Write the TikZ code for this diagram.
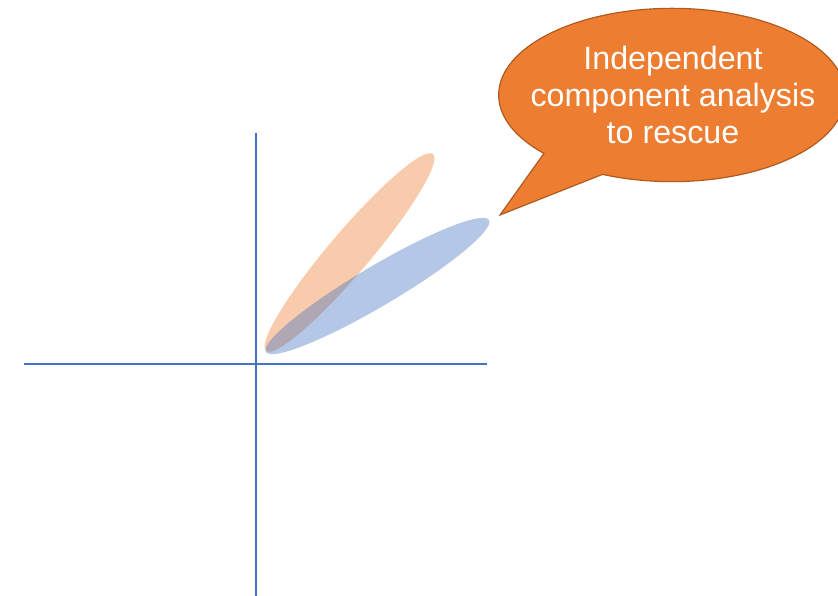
\documentclass[tikz,border=0pt]{standalone}
\usepackage{fontspec}
\setmainfont{Liberation Sans}
\usepackage{tikz}
\usepackage{xcolor}
\usetikzlibrary{shapes.geometric,shapes.callouts}

\definecolor{axisblue}{HTML}{4472C4}
\definecolor{icaorange}{HTML}{ED7D31}
\definecolor{icaborder}{HTML}{AE5A21}

\begin{document}
\begin{tikzpicture}[
    x=0.03cm, y=-0.03cm,
    axis/.style={draw=axisblue, line width=2pt},
    cloud/.style={ellipse, draw=none, inner sep=0pt, fill opacity=0.4},
    bubble/.style={ellipse callout, fill=icaorange, draw=icaborder, line width=1pt, inner sep=0pt,
        minimum width=10.4cm, minimum height=5.2cm, callout pointer arc=24},
    bubbletext/.style={text=white, align=center, inner sep=0pt, font=\fontsize{27.5}{31.5}\selectfont}
]
\useasboundingbox (0,0) rectangle (838,596);
\coordinate (xl) at (24,364);
\coordinate (xr) at (487,364);
\coordinate (yt) at (256,133);
\coordinate (yb) at (256,596);
\draw[axis] (xl) -- (xr);
\draw[axis] (yt) -- (yb);
\node[cloud, fill=icaorange, minimum width=7.74cm, minimum height=1.24cm, rotate=49.7] (src) at (349.5,252.5) {};
\node[cloud, fill=axisblue, minimum width=7.77cm, minimum height=1.2cm, rotate=30.6] (mix) at (377.5,286) {};
\node[bubble, callout absolute pointer={(500,215)}] (ica) at (672,95) {};
\node[bubbletext] (icatext) at (673,95) {Independent\\component analysis\\to rescue};
\end{tikzpicture}
\end{document}
